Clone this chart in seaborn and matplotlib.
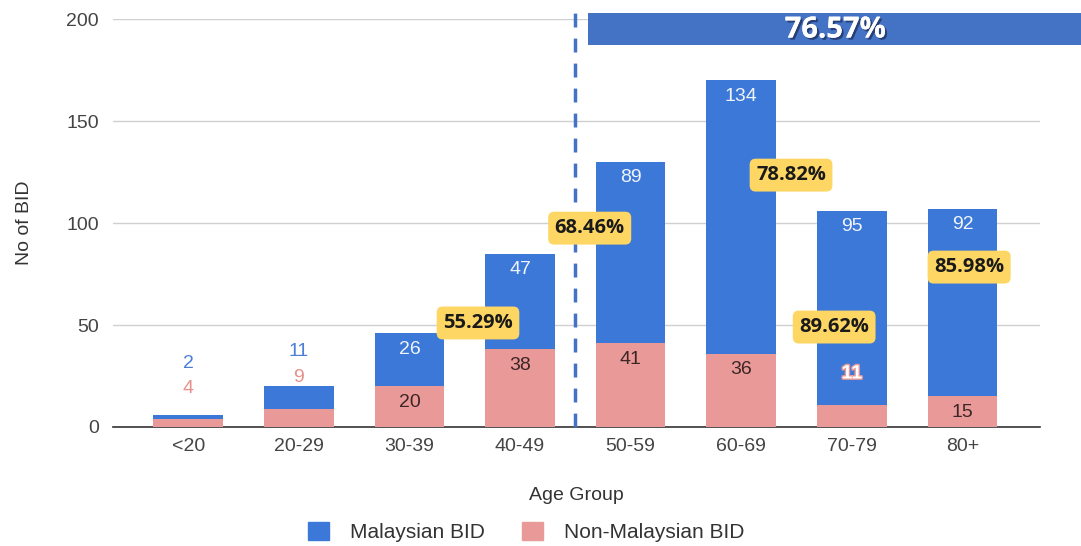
import numpy as np
import pandas as pd
import matplotlib
matplotlib.use("Agg")
import matplotlib.pyplot as plt
import matplotlib.patheffects as pe
from matplotlib.patches import Rectangle, Patch
import seaborn as sns

# data
age_groups = ["<20", "20-29", "30-39", "40-49", "50-59", "60-69", "70-79", "80+"]
malaysian = [2, 11, 26, 47, 89, 134, 95, 92]
non_malaysian = [4, 9, 20, 38, 41, 36, 11, 15]
share_labels = ["55.29%", "68.46%", "78.82%", "89.62%", "85.98%"]
overall_share = "76.57%"

# where the yellow share boxes sit (x in category units, y in data units)
share_pos = [(2.62, 51), (3.63, 97.5), (5.45, 123.5), (5.84, 49), (7.06, 78.4)]

blue = "#3c78d8"
pink = "#ea9999"
banner_blue = "#4472c4"

df = pd.DataFrame({"Age": age_groups, "Malaysian": malaysian, "NonMalaysian": non_malaysian})
df["Total"] = df["Malaysian"] + df["NonMalaysian"]

sns.set_theme(style="white")
plt.rcParams['font.family'] = ['Liberation Sans', 'DejaVu Sans']
bold_font = ['Open Sans', 'DejaVu Sans']

fig = plt.figure(figsize=(10.81, 5.46), dpi=100)
ax = fig.add_axes([0.1045, 0.218, 0.8575, 0.747])

sns.barplot(data=df, x="Age", y="Total", order=age_groups, color=blue,
            width=0.63, saturation=1, linewidth=0, ax=ax, zorder=3)
sns.barplot(data=df, x="Age", y="NonMalaysian", order=age_groups, color=pink,
            width=0.63, saturation=1, linewidth=0, ax=ax, zorder=3)

ax.set_xlim(-0.68, 7.7)
ax.set_ylim(0, 200)
ax.set_yticks([0, 50, 100, 150, 200])
ax.yaxis.grid(True, color="#d0d0d0", lw=1)
ax.set_axisbelow(True)
for s in ["left", "right", "top"]:
    ax.spines[s].set_visible(False)
ax.spines["bottom"].set_color("#333333")
ax.spines["bottom"].set_linewidth(1.2)
ax.tick_params(axis="both", length=0, labelsize=14, colors="#444444")
ax.tick_params(axis="x", pad=8)
ax.tick_params(axis="y", pad=10)
ax.set_xlabel("Age Group", fontsize=14, color="#333333", labelpad=23)
ax.set_ylabel("No of BID", fontsize=14, color="#333333", labelpad=24)

# value labels
for i, (m, n) in enumerate(zip(malaysian, non_malaysian)):
    tot = m + n
    if i == 0:
        ax.annotate(str(n), (i, tot), xytext=(0, 19), textcoords="offset points",
                    ha="center", va="center", fontsize=14, color="#e8908a")
        ax.annotate(str(m), (i, tot), xytext=(0, 37), textcoords="offset points",
                    ha="center", va="center", fontsize=14, color="#4a7fd6")
    elif i == 1:
        ax.annotate(str(n), (i, tot), xytext=(0, 6.5), textcoords="offset points",
                    ha="center", va="center", fontsize=14, color="#e8908a")
        ax.annotate(str(m), (i, tot), xytext=(0, 25), textcoords="offset points",
                    ha="center", va="center", fontsize=14, color="#4a7fd6")
    else:
        ax.annotate(str(m), (i, tot), xytext=(0, -11.5), textcoords="offset points",
                    ha="center", va="center", fontsize=14, color="#f0f4fb", zorder=5)
        if i == 6:
            t = ax.annotate(str(n), (i, n), xytext=(0, 22), textcoords="offset points",
                            ha="center", va="center", fontsize=14, color="white",
                            fontweight="bold", zorder=5)
            t.set_path_effects([pe.withStroke(linewidth=2, foreground=pink)])
        else:
            ax.annotate(str(n), (i, n), xytext=(0, -11.5), textcoords="offset points",
                        ha="center", va="center", fontsize=14, color="#3d2626", zorder=5)

# yellow share boxes
for lab, (x, y) in zip(share_labels, share_pos):
    ax.text(x, y, lab, ha="center", va="center", fontsize=14.5, fontweight="bold",
            family=bold_font, color="#1a1a1a", zorder=6,
            bbox=dict(boxstyle="round,pad=0.32,rounding_size=0.3", fc="#fdd663", ec="none"))

# dashed divider between 40-49 and 50-59
ax.plot([3.5, 3.5], [0, 204.5], ls=(0, (4, 3.2)), lw=2.5, color=banner_blue,
        clip_on=False, zorder=4)

# banner across the top right
fig.patches.append(Rectangle((588 / 1081, 1 - 45 / 546), 1 - 588 / 1081, 32 / 546,
                             transform=fig.transFigure, fc=banner_blue, ec="none", zorder=5))
bt = fig.text(835 / 1081, 1 - 30 / 546, overall_share, ha="center", va="center",
              fontsize=21, fontweight="bold", family=bold_font, color="white", zorder=6)
bt.set_path_effects([pe.withSimplePatchShadow(offset=(1.5, -1.5), shadow_rgbFace="#1a2a55", alpha=0.7),
                     pe.Normal()])

handles = [Patch(color=blue, label="Malaysian BID"), Patch(color=pink, label="Non-Malaysian BID")]
fig.legend(handles=handles, loc="center", bbox_to_anchor=(0.487, 1 - 532 / 546), ncol=2,
           frameon=False, fontsize=15, handlelength=1.0, handleheight=1.0,
           columnspacing=1.8, handletextpad=1.0, labelcolor="#333333")

fig.savefig("out.png", dpi=100)
